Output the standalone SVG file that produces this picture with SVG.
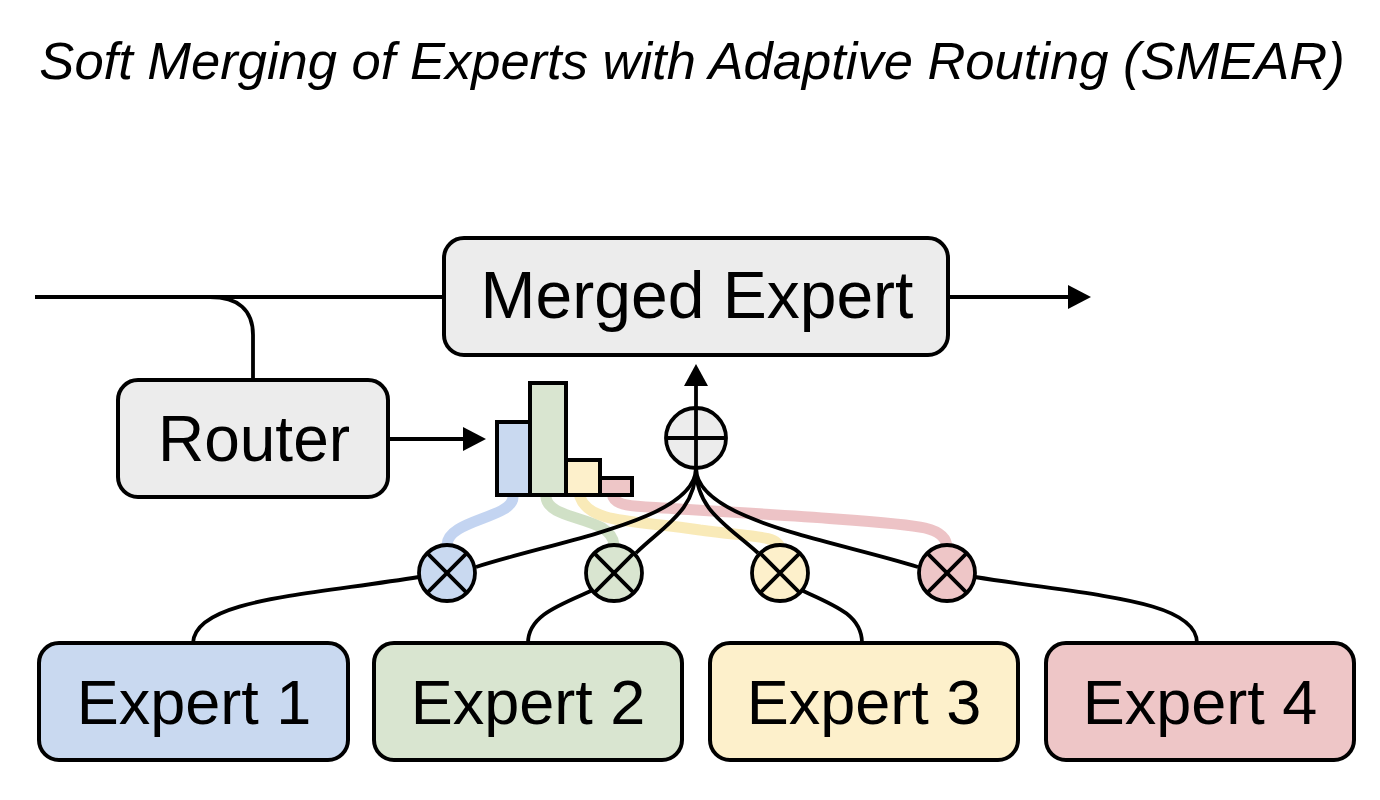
<svg xmlns="http://www.w3.org/2000/svg" width="1380" height="800" viewBox="0 0 1380 800">
<style>
.box{stroke:#000;stroke-width:4}
.lbl{font-family:"Liberation Sans",Arial,sans-serif;fill:#000;text-anchor:middle}
.ln{fill:none;stroke:#000;stroke-width:3.8}
.soft{fill:none;stroke-width:11;stroke-linecap:round;opacity:0.8}
.op{stroke:#000;stroke-width:3.8}
</style>
<rect width="1380" height="800" fill="#fff"/>
<text x="692" y="79" class="lbl" font-size="52.5" font-style="italic">Soft Merging of Experts with Adaptive Routing (SMEAR)</text>

<g id="soft-weights">
<path class="soft" stroke="#b4c9ee" d="M513,497 C513,518 447,520 447,545"/>
<path class="soft" stroke="#c4d8b8" d="M546,497 C548,522 612,515 614,545"/>
<path class="soft" stroke="#f8e5a6" d="M580,497 C590,525 640,520 700,530 C750,537 778,535 780,548"/>
<path class="soft" stroke="#e8b4b8" d="M613,497 C618,508 640,506 680,509 C780,515 900,522 925,528 C942,532 947,540 947,548"/>
</g>

<g id="connectors">
<path class="ln" d="M35,297 H444"/>
<path class="ln" d="M210,297 C238,297 253,310 253,335 V380"/>
<path class="ln" d="M948,297 H1072"/>
<polygon points="1068,285 1091,297 1068,309" fill="#000"/>
<path class="ln" d="M388,439 H466"/>
<polygon points="463,427 486,439 463,451" fill="#000"/>
<path class="ln" d="M696,408 V383"/>
<polygon points="684,386 696,364 708,386" fill="#000"/>
<path class="ln" d="M696,468 C696,520 560,540 476,567"/>
<path class="ln" d="M696,468 C696,510 665,525 636,553"/>
<path class="ln" d="M696,468 C696,510 727,525 758,553"/>
<path class="ln" d="M696,468 C696,520 832,540 918,567"/>
<path class="ln" d="M419,577 C300,596 195,600 193,643"/>
<path class="ln" d="M593,590 C560,605 528,615 528,643"/>
<path class="ln" d="M801,590 C834,605 862,615 862,643"/>
<path class="ln" d="M975,577 C1094,596 1197,600 1197,643"/>
</g>

<g id="merged-expert">
<rect class="box" x="444" y="238" width="504" height="117" rx="20" fill="#ececec"/>
<text x="697" y="318" class="lbl" font-size="66">Merged Expert</text>
</g>

<g id="router">
<rect class="box" x="118" y="380" width="270" height="117" rx="20" fill="#ececec"/>
<text x="254" y="461" class="lbl" font-size="64">Router</text>
</g>

<g id="histogram">
<rect class="box" x="497" y="422" width="33" height="73" fill="#c9d9f0"/>
<rect class="box" x="530" y="383" width="36" height="112" fill="#d9e5d0"/>
<rect class="box" x="566" y="460" width="34" height="35" fill="#fdf0cb"/>
<rect class="box" x="600" y="478" width="32" height="17" fill="#eec6c7"/>
</g>

<g id="sum">
<circle cx="696" cy="438" r="30" fill="#ececec" class="op"/>
<path class="op" d="M666,438 H726 M696,408 V468"/>
</g>

<g id="mul1">
<circle cx="447" cy="573" r="28" fill="#c9d9f0" class="op"/>
<path class="op" d="M427.2,553.2 L466.8,592.8 M466.8,553.2 L427.2,592.8"/>
</g>
<g id="mul2">
<circle cx="614" cy="573" r="28" fill="#d9e5d0" class="op"/>
<path class="op" d="M594.2,553.2 L633.8,592.8 M633.8,553.2 L594.2,592.8"/>
</g>
<g id="mul3">
<circle cx="780" cy="573" r="28" fill="#fdf0cb" class="op"/>
<path class="op" d="M760.2,553.2 L799.8,592.8 M799.8,553.2 L760.2,592.8"/>
</g>
<g id="mul4">
<circle cx="947" cy="573" r="28" fill="#eec6c7" class="op"/>
<path class="op" d="M927.2,553.2 L966.8,592.8 M966.8,553.2 L927.2,592.8"/>
</g>

<g id="expert1">
<rect class="box" x="39" y="643" width="309" height="117" rx="20" fill="#c9d9f0"/>
<text x="194" y="724" class="lbl" font-size="63">Expert 1</text>
</g>
<g id="expert2">
<rect class="box" x="374" y="643" width="308" height="117" rx="20" fill="#d9e5d0"/>
<text x="528" y="724" class="lbl" font-size="63">Expert 2</text>
</g>
<g id="expert3">
<rect class="box" x="710" y="643" width="308" height="117" rx="20" fill="#fdf0cb"/>
<text x="864" y="724" class="lbl" font-size="63">Expert 3</text>
</g>
<g id="expert4">
<rect class="box" x="1046" y="643" width="308" height="117" rx="20" fill="#eec6c7"/>
<text x="1200" y="724" class="lbl" font-size="63">Expert 4</text>
</g>
</svg>
